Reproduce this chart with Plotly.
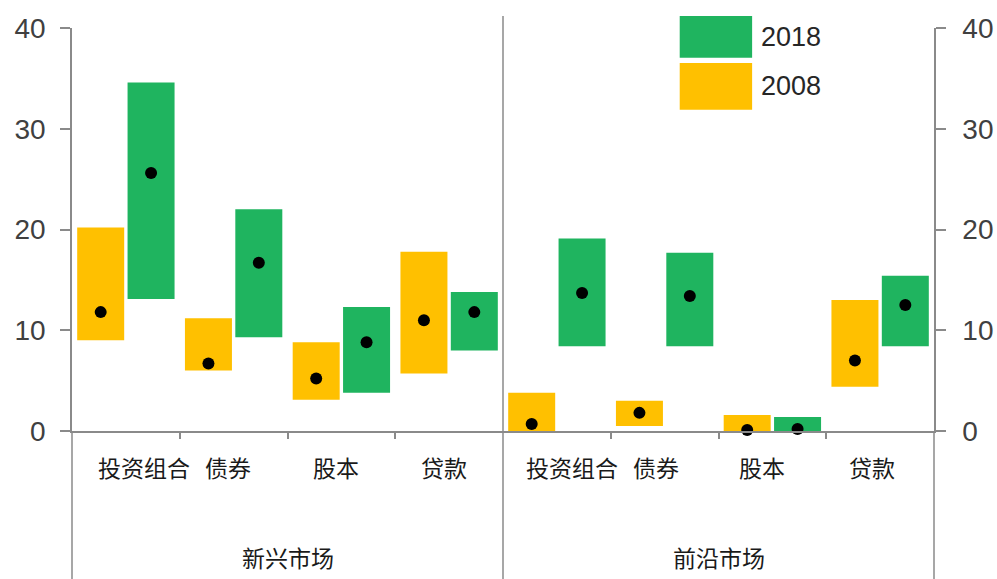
import plotly.graph_objects as go

groups = ["新兴市场", "前沿市场"]
categories = ["投资组合", "债券", "股本", "贷款"]
years = ["2008", "2018"]

# 区间（低-高）与中位数，单位：%
low_2008 = [9.0, 6.0, 3.1, 5.7, 0.0, 0.5, 0.0, 4.4]
high_2008 = [20.2, 11.2, 8.8, 17.8, 3.8, 3.0, 1.6, 13.0]
mid_2008 = [11.8, 6.7, 5.2, 11.0, 0.7, 1.8, 0.1, 7.0]

low_2018 = [13.1, 9.3, 3.8, 8.0, 8.4, 8.4, 0.0, 8.4]
high_2018 = [34.6, 22.0, 12.3, 13.8, 19.1, 17.7, 1.4, 15.4]
mid_2018 = [25.6, 16.7, 8.8, 11.8, 13.7, 13.4, 0.2, 12.5]

colors = {"2008": "#FFC000", "2018": "#1FB45F"}
axis_col = "#8a8a8a"
cjk = "Noto Sans CJK SC"
latin = "Liberation Sans, Arial"

labels = categories * len(groups)
xs = list(range(len(labels)))

series = {
    "2008": (low_2008, high_2008, mid_2008),
    "2018": (low_2018, high_2018, mid_2018),
}

fig = go.Figure()
for yr in years:
    lo, hi, mid = series[yr]
    fig.add_trace(go.Bar(
        x=xs, y=[h - l for h, l in zip(hi, lo)], base=lo, name=yr,
        marker=dict(color=colors[yr], line_width=0), offsetgroup=yr,
        showlegend=False))
for yr in years:
    lo, hi, mid = series[yr]
    fig.add_trace(go.Scatter(
        x=xs, y=mid, mode="markers", offsetgroup=yr, cliponaxis=False,
        marker=dict(color="black", size=12), showlegend=False))
# 右侧坐标轴
fig.add_trace(go.Scatter(x=[0], y=[0], yaxis="y2", mode="markers",
                         marker=dict(opacity=0), showlegend=False, hoverinfo="skip"))

tick_font = dict(family=latin, size=28, color="#404040")
fig.update_layout(
    width=997, height=579,
    margin=dict(l=72, r=63, t=28, b=148, autoexpand=False),
    paper_bgcolor="white", plot_bgcolor="white",
    barmode="group", scattermode="group",
    bargap=0.065, bargroupgap=0.067,
    xaxis=dict(range=[-0.5, 7.5], showline=True, linecolor=axis_col, linewidth=1.5,
               showgrid=False, zeroline=False, showticklabels=False,
               tickvals=[], ticks="",
               minor=dict(tickvals=[0.5, 1.5, 2.5, 4.5, 5.5, 6.5], ticks="outside",
                          ticklen=6, tickcolor=axis_col, tickwidth=1.5)),
    yaxis=dict(range=[0, 40], tickvals=[0, 10, 20, 30, 40], showline=True,
               linecolor=axis_col, linewidth=1.5, ticks="outside", ticklen=10,
               tickcolor=axis_col, tickwidth=1.5, showgrid=False, zeroline=False,
               automargin=False, ticklabelstandoff=9, tickfont=tick_font),
    yaxis2=dict(range=[0, 40], overlaying="y", side="right", tickvals=[0, 10, 20, 30, 40],
                showline=True, linecolor=axis_col, linewidth=1.5, ticks="outside",
                ticklen=10, tickcolor=axis_col, tickwidth=1.5, showgrid=False,
                zeroline=False, automargin=False, ticklabelstandoff=11,
                tickfont=tick_font),
)

# 轴线向下延伸与中间分隔线
bottom = -0.37
for xv in [0, 1]:
    fig.add_shape(type="line", xref="paper", yref="paper", x0=xv, x1=xv, y0=bottom, y1=0,
                  line=dict(color=axis_col, width=1.5))
fig.add_shape(type="line", xref="x", yref="paper", x0=3.5, x1=3.5, y0=bottom, y1=1.03,
              line=dict(color=axis_col, width=1.5))

# 类别标签
label_dx = [18, -6, -5, -5, 15, -9, -10, -8]
for xv, lab, dx in zip(xs, labels, label_dx):
    fig.add_annotation(x=xv, xref="x", y=-0.09, yref="paper", text=lab, showarrow=False,
                       xshift=dx, yanchor="middle",
                       font=dict(family=cjk, size=23, color="#1a1a1a"))
# 分组标签
for i, g in enumerate(groups):
    fig.add_annotation(x=i * 4 + 1.5, xref="x", y=-0.313, yref="paper", text=g,
                       showarrow=False, yanchor="middle",
                       font=dict(family=cjk, size=23, color="#1a1a1a"))

# 图例
legend_items = [("2018", 0.926, 1.030), ("2008", 0.797, 0.913)]
for yr, y0, y1 in legend_items:
    fig.add_shape(type="rect", xref="paper", yref="paper", x0=0.705, x1=0.789,
                  y0=y0, y1=y1, fillcolor=colors[yr], line_width=0)
    fig.add_annotation(x=0.797, xref="paper", y=(y0 + y1) / 2, yref="paper", text=yr,
                       showarrow=False, xanchor="left", yanchor="middle",
                       font=dict(family=latin, size=27, color="#262626"))

fig.write_html("out.html", config={"displayModeBar": False},
               post_script="document.body.style.margin='0';")
